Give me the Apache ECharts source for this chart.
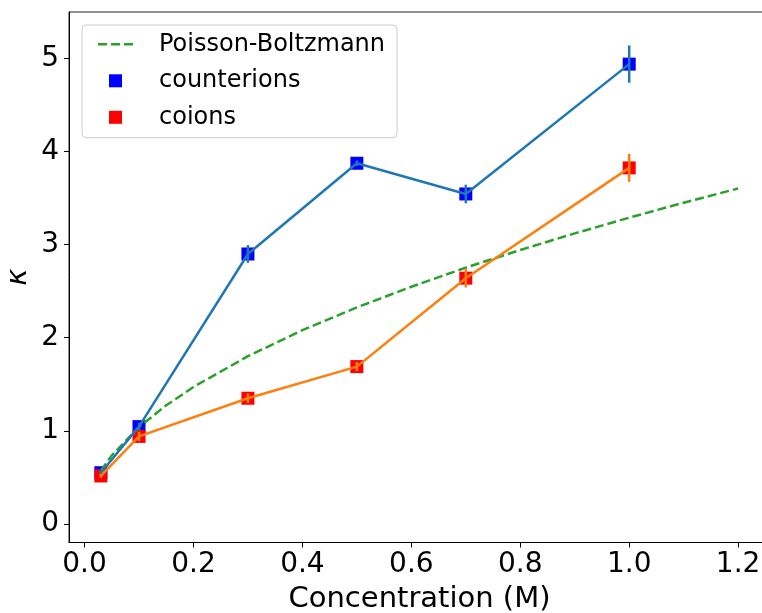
<!DOCTYPE html>
<html><head><meta charset="utf-8">
<script src="https://cdn.jsdelivr.net/npm/echarts@6/dist/echarts.min.js"></script>
<style>html,body{margin:0;padding:0;background:#fff}#c{width:762px;height:613px}</style>
</head><body><div id="c"></div>
<script>
// ---- data ----
const concentrations = [0.03, 0.1, 0.3, 0.5, 0.7, 1.0];
const counterions    = [0.55, 1.045, 2.90, 3.875, 3.545, 4.94];
const counterionErr  = [0.02, 0.04, 0.095, 0.03, 0.10, 0.20];
const coions         = [0.515, 0.94, 1.35, 1.69, 2.64, 3.825];
const coionErr       = [0.02, 0.05, 0.05, 0.05, 0.10, 0.15];
const pbConc  = [0.03, 0.05, 0.1, 0.15, 0.2, 0.3, 0.4, 0.5, 0.6, 0.7, 0.8, 0.9, 1.0, 1.1, 1.2];
const pbKappa = [0.57, 0.736, 1.04, 1.274, 1.471, 1.802, 2.081, 2.326, 2.548, 2.753, 2.943, 3.121, 3.29, 3.451, 3.604];
const xTicks = [0.0, 0.2, 0.4, 0.6, 0.8, 1.0, 1.2];
const yTicks = [0, 1, 2, 3, 4, 5];

const FONT = 'DejaVu Sans';
const SQUARE = 'path://M0,0L1,0L1,1L0,1Z';
const DASHES = 'path://M0,0h9v2.5h-9zM13,0h9v2.5h-9zM26,0h9v2.5h-9z';
const chart = echarts.init(document.getElementById('c'), null, {renderer: 'canvas'});

function errSeries(name, ys, errs, color) {
  return {
    name: name, type: 'custom', z: 4,
    data: concentrations.map((c, i) => [c, ys[i], errs[i]]),
    encode: {x: 0, y: 1},
    renderItem: function (params, api) {
      const x = api.value(0), y = api.value(1), e = api.value(2);
      const p1 = api.coord([x, y + e]), p2 = api.coord([x, y - e]);
      return {type: 'line', shape: {x1: p1[0], y1: p1[1], x2: p2[0], y2: p2[1]},
              style: {stroke: color, lineWidth: 2.5}};
    }
  };
}

const option = {
  animation: false,
  backgroundColor: '#ffffff',
  grid: {left: 69, top: 12, width: 701, height: 530.5, show: true, outerBoundsMode: 'none',
         containLabel: false,
         borderColor: '#222', borderWidth: 1, backgroundColor: 'transparent'},
  xAxis: {
    type: 'value', min: -0.0285, max: 1.2585,
    name: 'Concentration (M)', nameLocation: 'middle', nameGap: 42, nameMoveOverlap: false,
    nameTextStyle: {fontFamily: FONT, fontSize: 29, color: '#000'},
    axisLine: {show: true, onZero: false, lineStyle: {color: '#000', width: 1}},
    axisTick: {show: true, length: 5, lineStyle: {color: '#000'}, customValues: xTicks},
    axisLabel: {show: true, margin: 8, fontFamily: FONT, fontSize: 28, color: '#000',
                customValues: xTicks, formatter: v => v.toFixed(1)},
    splitLine: {show: false}
  },
  yAxis: {
    type: 'value', min: -0.2, max: 5.5,
    name: 'κ', nameLocation: 'middle', nameGap: 36, nameRotate: 90, nameMoveOverlap: false,
    nameTextStyle: {fontFamily: FONT, fontSize: 29, fontStyle: 'italic', color: '#000'},
    axisLine: {show: true, onZero: false, lineStyle: {color: '#000', width: 1}},
    axisTick: {show: true, length: 5, lineStyle: {color: '#000'}, customValues: yTicks},
    axisLabel: {show: true, margin: 10, fontFamily: FONT, fontSize: 28, color: '#000',
                customValues: yTicks, formatter: v => String(Math.round(v))},
    splitLine: {show: false}
  },
  legend: {
    orient: 'vertical', left: 82, top: 25,
    data: [{name: 'Poisson-Boltzmann', icon: DASHES},
           {name: 'counterions', icon: SQUARE},
           {name: 'coions', icon: SQUARE}],
    itemWidth: 35, itemHeight: 13, itemGap: 8.5, symbolKeepAspect: true,
    padding: [5.3, 12, 6.4, 16],
    backgroundColor: 'rgba(255,255,255,0.8)', borderColor: '#cccccc', borderWidth: 1, borderRadius: 4,
    textStyle: {fontFamily: FONT, fontSize: 24, color: '#000', lineHeight: 28, padding: [0, 0, 0, 21]},
    selectedMode: false
  },
  series: [
    {name: 'counterions', type: 'scatter', z: 1, symbol: 'rect', symbolSize: 13,
     itemStyle: {color: '#0000ff', opacity: 1},
     data: concentrations.map((c, i) => [c, counterions[i]])},
    {name: 'coions', type: 'scatter', z: 1, symbol: 'rect', symbolSize: 13,
     itemStyle: {color: '#ff0000', opacity: 1},
     data: concentrations.map((c, i) => [c, coions[i]])},
    {name: 'Poisson-Boltzmann', type: 'line', z: 2, symbol: 'none', showSymbol: false, smooth: false,
     lineStyle: {color: '#2ca02c', width: 2.5, type: [9, 4]},
     itemStyle: {color: '#2ca02c'},
     data: pbConc.map((c, i) => [c, pbKappa[i]])},
    {name: 'counterions line', type: 'line', z: 3, symbol: 'none',
     lineStyle: {color: '#1f77b4', width: 2.5}, itemStyle: {color: '#1f77b4'},
     data: concentrations.map((c, i) => [c, counterions[i]])},
    {name: 'coions line', type: 'line', z: 3, symbol: 'none',
     lineStyle: {color: '#ff7f0e', width: 2.5}, itemStyle: {color: '#ff7f0e'},
     data: concentrations.map((c, i) => [c, coions[i]])},
    errSeries('counterions err', counterions, counterionErr, '#1f77b4'),
    errSeries('coions err', coions, coionErr, '#ff7f0e')
  ]
};
chart.setOption(option);
</script>
</body></html>
